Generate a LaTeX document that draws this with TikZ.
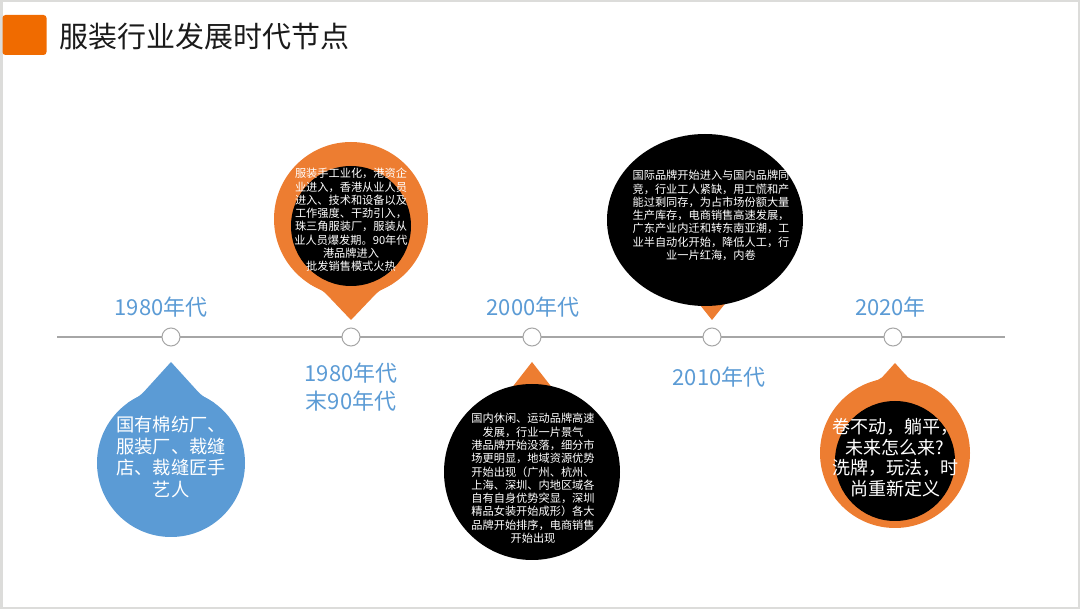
\documentclass[tikz,border=0pt]{standalone}
\usepackage{fontspec}
\setmainfont{Noto Sans CJK SC}
\usetikzlibrary{positioning}
\definecolor{pinorange}{HTML}{ED7D31}
\definecolor{markorange}{HTML}{F06B00}
\definecolor{erablue}{HTML}{5B9BD5}
\definecolor{linegray}{HTML}{A6A6A6}
\definecolor{framegray}{HTML}{DCDCDA}
\definecolor{titleblack}{HTML}{1A1A1A}

\begin{document}
\begin{tikzpicture}[
    x=1pt, y=-1pt,
    frame/.style={draw=framegray, line width=2.5pt},
    dot/.style={draw=linegray, line width=1pt, fill=white, circle, minimum size=18pt, inner sep=0pt},
    era/.style={text=erablue, font=\fontsize{22}{28}\selectfont, align=center, inner sep=0pt},
    bubble/.style={text=white, align=center, inner sep=0pt, font=\fontsize{11.2}{13.3}\selectfont},
    bigbubble/.style={text=white, align=center, inner sep=0pt, font=\fontsize{18.3}{21.5}\selectfont}
]
\useasboundingbox (0,0) rectangle (1080,609);

% Frame and title
\fill[white] (0,0) rectangle (1080,609);
\draw[frame] (1.25,1.25) rectangle (1078.75,607.75);
\fill[markorange, rounded corners=3pt] (2.5,15) rectangle (46.5,55);
\node (title) [anchor=west, inner sep=0pt, text=titleblack, font=\fontsize{29}{29}\selectfont] at (59,36) {服装行业发展时代节点};

% Timeline
\draw[linegray, line width=1.5pt] (57,337) -- (1005,337);
\node (t1) [dot] at (171,337) {};
\node (t2) [dot] at (351,337) {};
\node (t3) [dot] at (532,337) {};
\node (t4) [dot] at (712,337) {};
\node (t5) [dot] at (893,337) {};

% Era labels
\node (e1) [era, above=10pt of t1, xshift=-10pt] {1980年代};
\node (e2) [era, below=16pt of t2] {1980年代\\末90年代};
\node (e3) [era, above=10pt of t3, xshift=1pt] {2000年代};
\node (e4) [era, below=20pt of t4, xshift=7pt] {2010年代};
\node (e5) [era, above=10pt of t5, xshift=-2.5pt] {2020年};

% 1980s drop
\fill[erablue] (171,463) circle[radius=74];
\fill[erablue] (171,362) -- (145.9,389.6) .. controls (140.5,395.5) .. (127.5,403.1)
    -- (214.5,403.1) .. controls (201.5,395.5) .. (196.1,389.6) -- cycle;
\node (b1) [bigbubble] at (171,457) {国有棉纺厂、\\服装厂、裁缝\\店、裁缝匠手\\艺人};

% late 1980s pin
\fill[pinorange] (351,219) circle[radius=77];
\fill[pinorange] (351,320) -- (328.7,296.6) .. controls (323.2,290.8) .. (309.1,283.6)
    -- (392.9,283.6) .. controls (378.8,290.8) .. (373.3,296.6) -- cycle;
\fill[black] (351,226) circle[radius=60];
\node (b2) [bubble] at (351,220) {服装手工业化，港资企\\业进入，香港从业人员\\进入、技术和设备以及\\工作强度、干劲引入，\\珠三角服装厂，服装从\\业人员爆发期。90年代\\港品牌进入\\批发销售模式火热};

% 2000s pin
\fill[pinorange] (532,362) -- (507,394) -- (557,394) -- cycle;
\fill[black] (532,472) circle[radius=88];
\node (b3) [bubble] at (533,478.5) {国内休闲、运动品牌高速\\发展，行业一片景气\\港品牌开始没落，细分市\\场更明显，地域资源优势\\开始出现（广州、杭州、\\上海、深圳、内地区域各\\自有自身优势突显，深圳\\精品女装开始成形）各大\\品牌开始排序，电商销售\\开始出现};

% 2010s pin
\fill[pinorange] (712,320) -- (692,295) -- (732,295) -- cycle;
\fill[black] (705,220) ellipse[x radius=98, y radius=86];
\node (b4) [bubble] at (711,215.5) {国际品牌开始进入与国内品牌同\\竞，行业工人紧缺，用工慌和产\\能过剩同存，为占市场份额大量\\生产库存，电商销售高速发展，\\广东产业内迁和转东南亚潮，工\\业半自动化开始，降低人工，行\\业一片红海，内卷};

% 2020 pin
\fill[pinorange] (895,453) circle[radius=75];
\fill[pinorange] (895,363) -- (884.9,374.3) .. controls (880.2,379.5) .. (862.1,385.6)
    -- (927.9,385.6) .. controls (909.8,379.5) .. (905.1,374.3) -- cycle;
\fill[black] (895,461) circle[radius=60];
\node (b5) [bigbubble, font=\fontsize{18}{20.5}\selectfont] at (895,457.5) {卷不动，躺平，\\未来怎么来?\\洗牌，玩法，时\\尚重新定义};

\end{tikzpicture}
\end{document}
